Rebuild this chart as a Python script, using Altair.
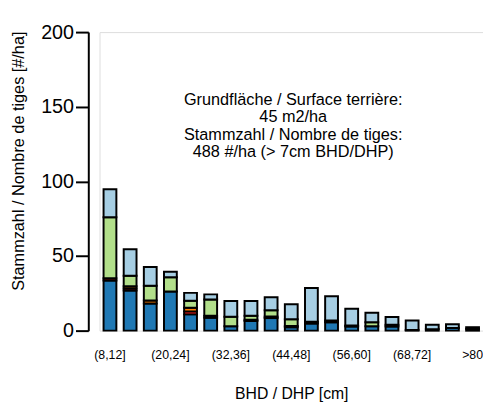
import altair as alt
import pandas as pd

classes = ["(8,12]", "(12,16]", "(16,20]", "(20,24]", "(24,28]", "(28,32]", "(32,36]",
           "(36,40]", "(40,44]", "(44,48]", "(48,52]", "(52,56]", "(56,60]", "(60,64]",
           "(64,68]", "(68,72]", "(72,76]", "(76,80]", ">80"]
shown_labels = ["(8,12]", "(20,24]", "(32,36]", "(44,48]", "(56,60]", "(68,72]", ">80"]

series_names = ["s1", "s2", "s3", "s4", "s5"]
series_colors = ["#1f78b4", "#e31a1c", "#ff7f00", "#b2df8a", "#a6cee3"]

s1 = [33.6, 26.8, 18.2, 26.2, 10.9, 8.7, 3.0, 6.5, 8.4, 2.3, 4.8, 5.6, 2.8, 3.0, 2.8, 0.5, 1.0, 1.8, 1.2]
s2 = [1.5, 1.5, 0, 0, 2.0, 1.2, 0, 0.8, 1.0, 0.8, 0, 0, 0, 0, 0, 0, 0, 0, 0]
s3 = [0, 1.5, 2.0, 0, 2.5, 0, 0, 0, 0, 0, 0, 0, 0, 0, 0, 0, 0, 0, 0]
s4 = [40.9, 7.0, 9.9, 9.5, 4.6, 11.0, 6.3, 2.7, 4.3, 4.5, 1.2, 1.2, 0.6, 2.6, 1.1, 0, 0, 0, 0]
s5 = [18.7, 17.7, 12.6, 3.7, 5.3, 3.4, 10.6, 9.9, 8.6, 10.1, 22.5, 16.2, 11.2, 6.4, 5.2, 6.3, 2.9, 2.5, 1.1]

note_lines = ["Grundfläche / Surface terrière:", "45 m2/ha",
              "Stammzahl / Nombre de tiges:", "488 #/ha (> 7cm BHD/DHP)"]
note_y = [151.3, 139.5, 127.8, 116.0]
note_x = "(44,48]"

rows = []
for k, (name, vals) in enumerate(zip(series_names, [s1, s2, s3, s4, s5])):
    for c, v in zip(classes, vals):
        if v > 0:
            rows.append({"klasse": c, "serie": name, "k": k, "n": v})
df = pd.DataFrame(rows)
notes = pd.DataFrame({"txt": note_lines, "y": note_y, "klasse": [note_x] * len(note_lines)})

FONT = "Liberation Sans"
label_expr = "indexof([" + ",".join("'" + s + "'" for s in shown_labels) + "], datum.value) >= 0 ? datum.value : ''"

xscale = alt.Scale(domain=classes, paddingInner=0.364, paddingOuter=0.2)
yscale = alt.Scale(domain=[0, 200], nice=False, zero=True)

bars = alt.Chart(df).mark_bar(stroke="black", strokeWidth=2, strokeJoin="miter").encode(
    x=alt.X("klasse:N", scale=xscale, sort=classes,
            axis=alt.Axis(title="BHD / DHP [cm]", labelAngle=0, labelExpr=label_expr,
                          domain=False, ticks=False, labelPadding=18.5, labelFontSize=12.5,
                          labelFont=FONT, labelColor="black", titleFont=FONT, titleFontSize=16,
                          titleFontWeight="normal", titleColor="black",
                          titleBaseline="middle", titleY=64)),
    y=alt.Y("n:Q", stack="zero", scale=yscale,
            axis=alt.Axis(title="Stammzahl / Nombre de tiges [#/ha]", values=[0, 50, 100, 150, 200],
                          grid=False, offset=11.4, domainColor="black", domainWidth=2,
                          tickColor="black", tickWidth=2, tickSize=13, labelPadding=2,
                          labelFont=FONT, labelFontSize=20, labelColor="black",
                          titleFont=FONT, titleFontSize=16.5, titleFontWeight="normal",
                          titleColor="black", titleBaseline="middle", titleX=-71, titleY=130.5)),
    color=alt.Color("serie:N", scale=alt.Scale(domain=series_names, range=series_colors), legend=None),
    order=alt.Order("k:Q", sort="ascending"),
)

text = alt.Chart(notes).mark_text(font=FONT, fontSize=16.5, color="black", align="center",
                                   baseline="alphabetic", dx=2).encode(
    x=alt.X("klasse:N", scale=xscale, sort=classes),
    y=alt.Y("y:Q", scale=yscale),
    text="txt:N",
)

chart = alt.layer(bars, text).properties(
    width=389.2, height=303,
    autosize=alt.AutoSizeParams(type="none"),
    padding={"left": 92.9, "top": 21.5, "right": 0, "bottom": 71.5},
).configure_view(stroke=None).configure(background="white")

chart.save("out.html", embed_options={"renderer": "svg", "actions": False})
